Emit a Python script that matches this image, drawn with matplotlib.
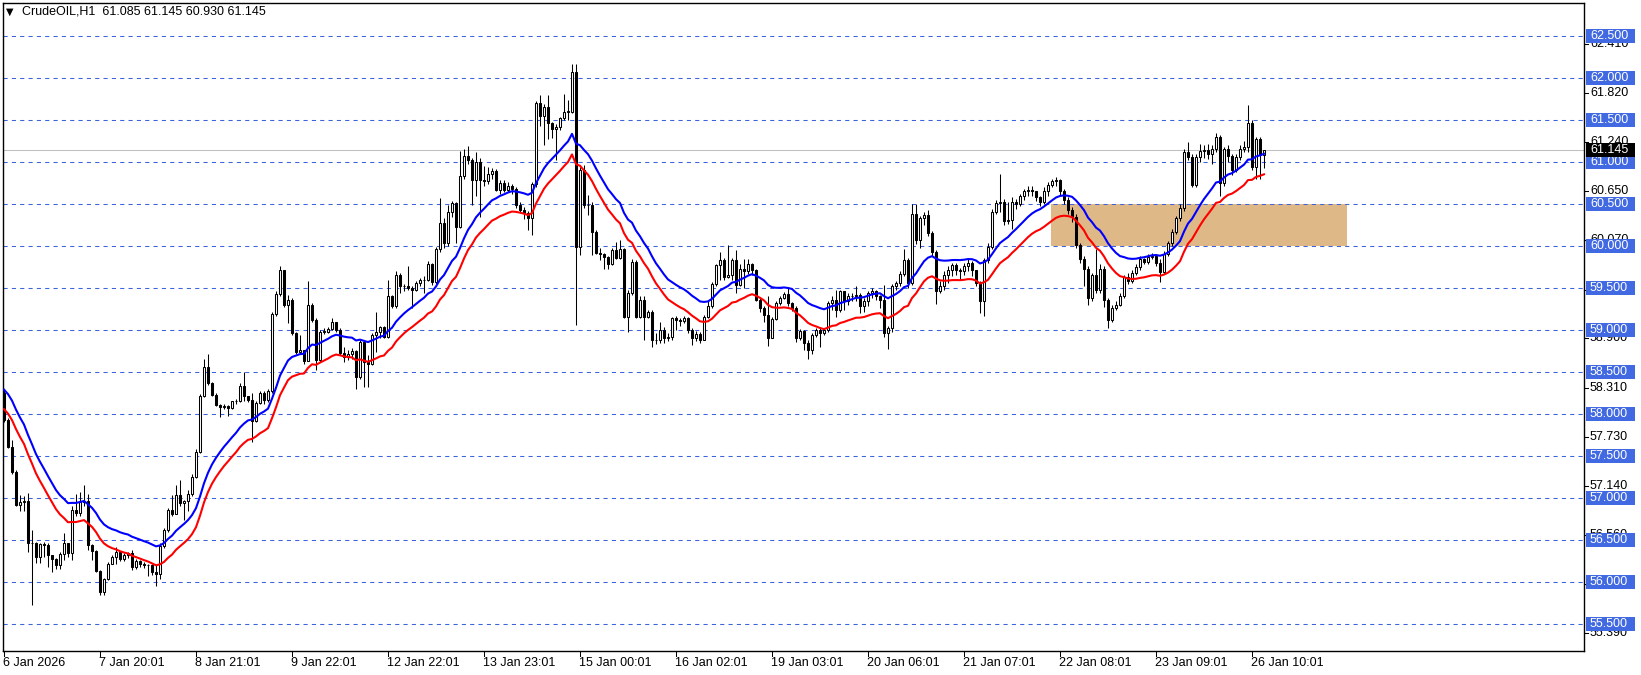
import matplotlib
matplotlib.use("Agg")
import matplotlib.pyplot as plt
from matplotlib.patches import Rectangle
from matplotlib.transforms import blended_transform_factory
import numpy as np
import pandas as pd

plt.rcParams['font.family'] = ['Liberation Sans', 'DejaVu Sans']

# ---------------- data ----------------
title_text = "CrudeOIL,H1  61.085 61.145 60.930 61.145"
first_open = 58.25

closes = [
    57.93, 57.61, 57.31, 56.92, 56.95, 56.97, 56.46, 56.47, 56.30, 56.45,
    56.44, 56.32, 56.27, 56.20, 56.33, 56.46, 56.35, 56.86, 56.82, 56.95,
    56.96, 56.44, 56.37, 56.13, 55.88, 56.03, 56.22, 56.30, 56.36, 56.27,
    56.32, 56.34, 56.18, 56.25, 56.22, 56.20, 56.20, 56.12, 56.10, 56.43,
    56.62, 56.86, 56.81, 57.04, 56.94, 56.96, 57.05, 57.25, 57.55, 58.21,
    58.56, 58.37, 58.23, 58.11, 58.08, 58.10, 58.07, 58.15, 58.16, 58.33,
    58.21, 58.17, 57.92, 58.13, 58.25, 58.17, 58.27, 59.19, 59.43, 59.71,
    59.30, 59.36, 58.96, 58.74, 58.76, 58.63, 59.30, 59.12, 58.64, 58.98,
    58.98, 59.01, 59.09, 59.00, 58.73, 58.68, 58.72, 58.75, 58.44, 58.86,
    58.62, 58.60, 58.94, 58.98, 59.03, 58.92, 59.40, 59.28, 59.66, 59.52,
    59.52, 59.50, 59.48, 59.56, 59.59, 59.60, 59.79, 59.57, 59.97, 60.27,
    60.03, 60.41, 60.51, 60.23, 60.83, 61.07, 61.02, 60.79, 61.00, 60.79,
    60.77, 60.86, 60.89, 60.67, 60.75, 60.67, 60.72, 60.68, 60.49, 60.43,
    60.39, 60.33, 60.74, 61.70, 61.55, 61.65, 61.46, 61.39, 61.42, 61.52,
    61.60, 61.60, 62.07, 59.99, 60.90, 60.49, 60.49, 60.17, 59.92, 59.90,
    59.87, 59.79, 59.95, 59.86, 59.96, 59.16, 59.44, 59.81, 59.16, 59.36,
    59.16, 59.22, 58.88, 58.88, 59.00, 58.90, 58.92, 59.14, 59.12, 59.11,
    59.14, 59.00, 58.90, 58.95, 58.88, 59.16, 59.28, 59.55, 59.77, 59.83,
    59.63, 59.65, 59.83, 59.54, 59.73, 59.70, 59.78, 59.71, 59.36, 59.26,
    59.18, 58.91, 59.13, 59.32, 59.38, 59.43, 59.32, 59.26, 58.90, 58.99,
    58.84, 58.76, 58.94, 59.00, 58.96, 59.00, 59.32, 59.36, 59.24, 59.46,
    59.34, 59.40, 59.40, 59.42, 59.28, 59.34, 59.44, 59.46, 59.40, 59.36,
    58.96, 59.02, 59.52, 59.56, 59.67, 59.83, 59.56, 60.38, 60.07, 60.33,
    60.37, 60.15, 59.93, 59.46, 59.52, 59.66, 59.72, 59.77, 59.72, 59.70,
    59.76, 59.80, 59.71, 59.56, 59.34, 59.83, 59.99, 60.41, 60.51, 60.52,
    60.30, 60.31, 60.52, 60.50, 60.59, 60.65, 60.67, 60.65, 60.58, 60.52,
    60.65, 60.73, 60.77, 60.78, 60.65, 60.55, 60.43, 60.35, 60.01, 59.85,
    59.73, 59.38, 59.65, 59.48, 59.73, 59.36, 59.12, 59.26, 59.30, 59.40,
    59.63, 59.58, 59.68, 59.75, 59.84, 59.81, 59.87, 59.88, 59.80, 59.69,
    59.91, 60.03, 60.17, 60.33, 60.45, 61.12, 61.06, 60.73, 61.06, 61.13,
    61.14, 61.10, 61.16, 61.30, 60.75, 61.15, 61.07, 60.90, 61.06, 61.16,
    61.18, 61.47, 60.94, 61.27, 61.085, 61.145,
]

highs = [
    58.28, 57.95, 57.69, 57.33, 57.04, 57.02, 57.06, 56.62, 56.48, 56.47,
    56.48, 56.46, 56.32, 56.28, 56.36, 56.58, 56.47, 56.90, 57.05, 57.07,
    57.15, 57.05, 56.45, 56.38, 56.14, 56.05, 56.24, 56.32, 56.42, 56.36,
    56.34, 56.36, 56.38, 56.27, 56.26, 56.24, 56.22, 56.22, 56.20, 56.46,
    56.64, 56.88, 57.04, 57.16, 57.21, 56.98, 57.10, 57.28, 57.58, 58.24,
    58.66, 58.72, 58.38, 58.25, 58.12, 58.12, 58.11, 58.16, 58.18, 58.37,
    58.50, 58.22, 58.25, 58.15, 58.27, 58.27, 58.30, 59.22, 59.47, 59.76,
    59.72, 59.42, 59.38, 58.98, 58.94, 58.66, 59.58, 59.32, 59.14, 59.00,
    59.02, 59.03, 59.14, 59.10, 59.02, 58.80, 58.76, 58.78, 58.76, 58.88,
    58.88, 58.70, 58.96, 59.22, 59.05, 59.05, 59.60, 59.42, 59.70, 59.68,
    59.55, 59.76, 59.52, 59.58, 59.62, 59.64, 59.82, 59.80, 59.99, 60.57,
    60.33, 60.49, 60.53, 60.52, 61.13, 61.15, 61.19, 61.05, 61.12, 61.05,
    60.95, 60.94, 60.93, 60.92, 60.78, 60.78, 60.76, 60.74, 60.70, 60.52,
    60.46, 60.42, 60.76, 61.73, 61.80, 61.69, 61.80, 61.48, 61.45, 61.54,
    61.81, 61.74, 62.17, 62.17, 60.94, 60.96, 60.61, 60.52, 60.19, 59.98,
    59.92, 59.88, 59.98, 60.05, 60.07, 59.98, 59.48, 59.85, 59.83, 59.40,
    59.40, 59.24, 59.24, 58.97, 59.10, 59.04, 58.97, 59.16, 59.17, 59.14,
    59.17, 59.15, 59.02, 58.99, 58.98, 59.18, 59.35, 59.57, 59.79, 59.93,
    59.86, 60.01, 59.86, 59.95, 59.78, 59.84, 59.85, 59.80, 59.73, 59.38,
    59.28, 59.40, 59.16, 59.35, 59.40, 59.45, 59.51, 59.33, 59.28, 59.01,
    59.00, 58.88, 58.96, 59.02, 59.03, 59.02, 59.34, 59.40, 59.48, 59.48,
    59.47, 59.44, 59.44, 59.52, 59.44, 59.38, 59.46, 59.50, 59.48, 59.42,
    59.54, 59.05, 59.55, 59.58, 59.70, 59.96, 59.86, 60.50, 60.50, 60.36,
    60.41, 60.43, 60.18, 59.95, 59.58, 59.70, 59.76, 59.80, 59.80, 59.74,
    59.80, 59.84, 59.82, 59.72, 59.58, 59.86, 60.03, 60.44, 60.55, 60.86,
    60.56, 60.52, 60.58, 60.56, 60.62, 60.68, 60.72, 60.72, 60.66, 60.60,
    60.70, 60.76, 60.80, 60.82, 60.80, 60.68, 60.58, 60.46, 60.38, 60.04,
    59.88, 59.76, 59.68, 59.97, 59.78, 59.76, 59.38, 59.30, 59.34, 59.44,
    59.66, 59.68, 59.72, 59.78, 59.88, 59.86, 59.90, 59.92, 59.90, 59.84,
    59.94, 60.06, 60.20, 60.36, 60.50, 61.15, 61.24, 61.10, 61.10, 61.22,
    61.20, 61.22, 61.20, 61.35, 61.32, 61.18, 61.20, 61.10, 61.10, 61.20,
    61.25, 61.68, 61.50, 61.30, 61.30, 61.145,
]

lows = [
    57.90, 57.59, 57.29, 56.90, 56.84, 56.84, 56.36, 55.73, 56.23, 56.23,
    56.30, 56.18, 56.12, 56.16, 56.16, 56.26, 56.30, 56.26, 56.78, 56.78,
    56.90, 56.38, 56.26, 56.12, 55.85, 55.85, 56.02, 56.22, 56.22, 56.25,
    56.25, 56.28, 56.14, 56.16, 56.18, 56.17, 56.07, 56.08, 55.95, 56.04,
    56.40, 56.60, 56.78, 56.86, 56.90, 56.74, 56.84, 57.02, 57.24, 57.53,
    58.20, 58.35, 58.21, 58.09, 57.96, 58.06, 57.98, 58.06, 58.12, 58.14,
    58.16, 58.14, 57.67, 57.90, 58.12, 58.12, 58.14, 58.25, 59.17, 59.40,
    59.27, 59.08, 58.94, 58.72, 58.72, 58.60, 58.88, 59.10, 58.52, 58.62,
    58.95, 58.96, 59.00, 58.98, 58.70, 58.62, 58.64, 58.66, 58.30, 58.42,
    58.32, 58.32, 58.58, 58.74, 58.90, 58.90, 58.90, 59.26, 59.26, 59.44,
    59.46, 59.48, 59.26, 59.46, 59.52, 59.44, 59.58, 59.54, 59.55, 59.93,
    59.98, 60.00, 60.35, 60.03, 60.22, 60.80, 60.98, 60.49, 60.60, 60.35,
    60.72, 60.74, 60.80, 60.65, 60.62, 60.64, 60.64, 60.62, 60.45, 60.40,
    60.32, 60.19, 60.13, 60.70, 61.43, 61.20, 61.27, 61.28, 61.02, 61.38,
    61.50, 61.50, 61.58, 59.06, 59.89, 60.45, 60.37, 59.89, 59.90, 59.83,
    59.73, 59.73, 59.77, 59.84, 59.84, 59.14, 58.98, 59.42, 59.14, 59.14,
    58.88, 59.14, 58.80, 58.83, 58.85, 58.85, 58.87, 58.88, 59.00, 59.05,
    59.08, 58.96, 58.82, 58.87, 58.84, 58.88, 59.14, 59.26, 59.52, 59.60,
    59.60, 59.62, 59.60, 59.44, 59.52, 59.50, 59.67, 59.66, 59.34, 59.22,
    59.10, 58.81, 58.91, 59.12, 59.30, 59.37, 59.29, 59.23, 58.86, 58.88,
    58.76, 58.66, 58.72, 58.92, 58.80, 58.94, 58.98, 59.24, 59.16, 59.22,
    59.24, 59.30, 59.34, 59.34, 59.20, 59.22, 59.28, 59.38, 59.36, 59.26,
    58.92, 58.77, 58.98, 59.48, 59.52, 59.64, 59.50, 59.54, 60.02, 59.98,
    60.25, 60.12, 59.88, 59.31, 59.44, 59.48, 59.56, 59.64, 59.66, 59.60,
    59.66, 59.70, 59.64, 59.52, 59.20, 59.17, 59.80, 59.96, 60.38, 60.40,
    60.25, 60.26, 60.20, 60.44, 60.48, 60.55, 60.60, 60.60, 60.54, 60.48,
    60.50, 60.60, 60.70, 60.72, 60.60, 60.50, 60.38, 60.28, 59.98, 59.80,
    59.52, 59.30, 59.35, 59.44, 59.44, 59.27, 59.02, 59.10, 59.24, 59.28,
    59.38, 59.55, 59.56, 59.66, 59.72, 59.78, 59.78, 59.84, 59.76, 59.57,
    59.67, 59.88, 60.00, 60.14, 60.30, 60.42, 61.02, 60.70, 60.70, 61.00,
    61.05, 61.04, 60.98, 61.12, 60.60, 60.72, 61.00, 60.85, 60.88, 61.02,
    61.12, 61.12, 60.90, 60.80, 60.80, 60.93,
]

date_labels = ["6 Jan 2026", "7 Jan 20:01", "8 Jan 21:01", "9 Jan 22:01",
               "12 Jan 22:01", "13 Jan 23:01", "15 Jan 00:01", "16 Jan 02:01",
               "19 Jan 03:01", "20 Jan 06:01", "21 Jan 07:01", "22 Jan 08:01",
               "23 Jan 09:01", "26 Jan 10:01"]
date_label_bars = [0, 24, 48, 72, 96, 120, 144, 168, 192, 216, 240, 264, 288, 312]

level_prices = [62.5, 62.0, 61.5, 61.0, 60.5, 60.0, 59.5, 59.0,
                58.5, 58.0, 57.5, 57.0, 56.5, 56.0, 55.5]
scale_prices = [62.41, 61.82, 61.24, 60.65, 60.07, 59.48, 58.90,
                58.31, 57.73, 57.14, 56.56, 55.98, 55.39]
last_price = 61.145

zone_bar_start, zone_bar_end = 261.75, 335.75
zone_low, zone_high = 60.0, 60.5

ema_period = 20
ema_seed = 58.20
envelope_dev = 0.002

assert len(closes) == len(highs) == len(lows), (len(closes), len(highs), len(lows))

# ---------------- figure ----------------
W, H = 1641, 675
fig = plt.figure(figsize=(W / 100, H / 100), dpi=100)
ax_l, ax_r, ax_t, ax_b = 3, 1584, 3, 651
ax = fig.add_axes([ax_l / W, (H - ax_b) / H, (ax_r - ax_l) / W, (ax_b - ax_t) / H])
px_per_bar = 4.0
xmin = -0.25
xmax = xmin + (ax_r - ax_l) / px_per_bar
ymax = 62.5 + (36 - ax_t) / 84.0
ymin = 62.5 - (ax_b - 36) / 84.0
ax.set_xlim(xmin, xmax)
ax.set_ylim(ymin, ymax)
ax.set_xticks([])
ax.set_yticks([])
for s in ax.spines.values():
    s.set_color('black')
    s.set_linewidth(1.0)

n = len(closes)
x = np.arange(n)
c = np.array(closes)
o = np.concatenate([[first_open], c[:-1]])
h = np.array(highs)
l = np.array(lows)

# zone rectangle
ax.add_patch(Rectangle((zone_bar_start, zone_low), zone_bar_end - zone_bar_start,
                       zone_high - zone_low, facecolor='#DEB887', edgecolor='none', zorder=1))

# level lines
for p in level_prices:
    ax.axhline(p, color='#3D63DD', lw=0.75, ls=(0, (4, 4)), zorder=2)
ax.axhline(last_price, color='#C0C0C0', lw=0.75, zorder=2)

# candles
top = np.maximum(o, c)
bot = np.minimum(o, c)
ax.vlines(x, np.minimum(l, bot), np.maximum(h, top), color='black', lw=0.75, zorder=3)
up = c >= o
ax.bar(x[up], np.maximum(top[up] - bot[up], 0.004), bottom=bot[up], width=0.5,
       facecolor='white', edgecolor='black', linewidth=0.75, zorder=4)
ax.bar(x[~up], np.maximum(top[~up] - bot[~up], 0.004), bottom=bot[~up], width=0.5,
       facecolor='black', edgecolor='black', linewidth=0.75, zorder=4)

# envelope of EMA
series = pd.Series(np.concatenate([[ema_seed], c]))
ema = series.ewm(span=ema_period, adjust=False).mean().values[1:]
ax.plot(x, ema * (1 + envelope_dev), color='#0000FF', lw=1.5, zorder=5)
ax.plot(x, ema * (1 - envelope_dev), color='#FF0000', lw=1.5, zorder=5)

# right price scale
bt = blended_transform_factory(ax.transAxes, ax.transData)
def axx(px):
    return (px - ax_l) / (ax_r - ax_l)

for p in scale_prices:
    ax.plot([axx(ax_r), axx(ax_r + 4)], [p, p], color='black', lw=0.75,
            transform=bt, clip_on=False)
    ax.text(axx(1590), p, f"{p:.3f}", transform=bt, ha='left', va='center',
            fontsize=9, color='black', clip_on=False, zorder=6)

box_h = 14 / 84.0
for p in level_prices:
    ax.add_patch(Rectangle((axx(1586), p - box_h / 2), axx(1635) - axx(1586), box_h,
                           transform=bt, facecolor='#4169E1', edgecolor='none',
                           clip_on=False, zorder=7))
    ax.text(axx(1590), p, f"{p:.3f}", transform=bt, ha='left', va='center',
            fontsize=9, color='white', clip_on=False, zorder=8)

ax.add_patch(Rectangle((axx(1586), last_price - box_h / 2), axx(1635) - axx(1586), box_h,
                       transform=bt, facecolor='black', edgecolor='none',
                       clip_on=False, zorder=9))
ax.text(axx(1590), last_price, f"{last_price:.3f}", transform=bt, ha='left',
        va='center', fontsize=9, color='white', clip_on=False, zorder=10)

# bottom date labels
bt2 = blended_transform_factory(ax.transData, fig.transFigure)
for b, lab in zip(date_label_bars, date_labels):
    ax.plot([b, b], [(H - ax_b) / H, (H - ax_b - 5) / H], color='black', lw=0.75,
            transform=bt2, clip_on=False)
    ax.text(b - 0.2, (H - 663) / H, lab, transform=bt2, ha='left', va='center',
            fontsize=9, color='black', clip_on=False)

# title
fig.text(6 / W, (H - 12) / H, "\u25BC", fontsize=7, family='DejaVu Sans',
         ha='left', va='center', color='black')
fig.text(22 / W, (H - 12) / H, title_text, fontsize=9, ha='left', va='center',
         color='black')

fig.savefig("out.png", dpi=100, facecolor='white')
